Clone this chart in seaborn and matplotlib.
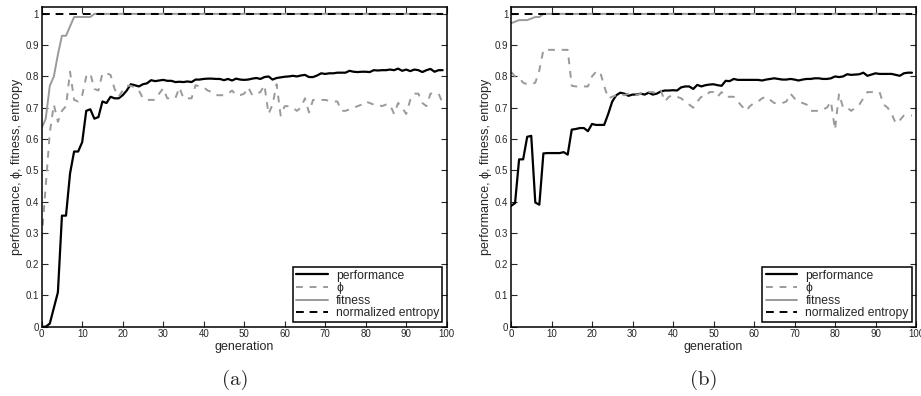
import numpy as np
import pandas as pd
import matplotlib
matplotlib.use("Agg")
import matplotlib.pyplot as plt
import seaborn as sns

generation = list(range(100))

perf_a = [0.0, 0.0, 0.01, 0.06, 0.11, 0.355, 0.355, 0.49, 0.56, 0.56,
          0.59, 0.69, 0.695, 0.665, 0.67, 0.72, 0.715, 0.735, 0.73, 0.73,
          0.74, 0.755, 0.775, 0.772, 0.768, 0.775, 0.778, 0.788, 0.785, 0.787,
          0.789, 0.786, 0.786, 0.782, 0.783, 0.782, 0.784, 0.782, 0.79, 0.79,
          0.792, 0.793, 0.793, 0.792, 0.792, 0.788, 0.792, 0.787, 0.793, 0.79,
          0.789, 0.79, 0.793, 0.795, 0.792, 0.798, 0.8, 0.79, 0.795, 0.797,
          0.799, 0.8, 0.802, 0.8, 0.803, 0.805, 0.798, 0.798, 0.803, 0.81,
          0.808, 0.81, 0.81, 0.812, 0.812, 0.812, 0.818, 0.815, 0.814, 0.815,
          0.815, 0.814, 0.82, 0.819, 0.82, 0.82, 0.822, 0.82, 0.825, 0.818,
          0.822, 0.817, 0.822, 0.82, 0.814, 0.82, 0.824, 0.815, 0.82, 0.82]

phi_a = [0.28, 0.45, 0.62, 0.71, 0.655, 0.69, 0.705, 0.815, 0.725, 0.72,
         0.74, 0.80, 0.81, 0.76, 0.755, 0.81, 0.81, 0.805, 0.76, 0.735,
         0.755, 0.77, 0.77, 0.765, 0.755, 0.73, 0.725, 0.725, 0.725, 0.745,
         0.762, 0.73, 0.73, 0.73, 0.765, 0.73, 0.73, 0.73, 0.772, 0.768,
         0.765, 0.755, 0.75, 0.74, 0.74, 0.74, 0.745, 0.755, 0.74, 0.74,
         0.745, 0.765, 0.74, 0.745, 0.75, 0.772, 0.68, 0.71, 0.775, 0.675,
         0.705, 0.705, 0.70, 0.69, 0.70, 0.73, 0.685, 0.725, 0.725, 0.725,
         0.725, 0.722, 0.72, 0.72, 0.69, 0.69, 0.695, 0.70, 0.705, 0.71,
         0.72, 0.715, 0.71, 0.71, 0.705, 0.71, 0.71, 0.68, 0.715, 0.70,
         0.68, 0.725, 0.745, 0.745, 0.715, 0.705, 0.745, 0.745, 0.745, 0.715]

fit_a = [0.635, 0.665, 0.77, 0.80, 0.87, 0.93, 0.93, 0.96, 0.99, 0.99,
         0.99, 0.99, 0.99, 1.0] + [1.0] * 86

ent_a = [1.0] * 100

perf_b = [0.386, 0.395, 0.535, 0.535, 0.607, 0.61, 0.397, 0.39, 0.554, 0.555,
          0.555, 0.555, 0.555, 0.558, 0.55, 0.63, 0.632, 0.635, 0.635, 0.625,
          0.648, 0.645, 0.645, 0.645, 0.68, 0.72, 0.74, 0.748, 0.745, 0.738,
          0.742, 0.742, 0.745, 0.742, 0.748, 0.742, 0.745, 0.752, 0.755, 0.755,
          0.756, 0.755, 0.765, 0.768, 0.768, 0.76, 0.773, 0.768, 0.772, 0.774,
          0.775, 0.772, 0.77, 0.786, 0.785, 0.792, 0.789, 0.789, 0.789, 0.789,
          0.789, 0.789, 0.787, 0.79, 0.792, 0.794, 0.792, 0.79, 0.79, 0.792,
          0.79, 0.787, 0.79, 0.792, 0.792, 0.794, 0.794, 0.792, 0.792, 0.794,
          0.80, 0.798, 0.80, 0.807, 0.805, 0.806, 0.807, 0.812, 0.802, 0.806,
          0.81, 0.808, 0.808, 0.808, 0.808, 0.805, 0.802, 0.81, 0.812, 0.812]

phi_b = [0.815, 0.80, 0.795, 0.78, 0.775, 0.775, 0.78, 0.82, 0.885, 0.885,
         0.885, 0.885, 0.885, 0.885, 0.885, 0.77, 0.768, 0.768, 0.768, 0.768,
         0.80, 0.815, 0.815, 0.77, 0.73, 0.735, 0.74, 0.745, 0.74, 0.745,
         0.745, 0.74, 0.745, 0.745, 0.75, 0.75, 0.745, 0.755, 0.72, 0.735,
         0.74, 0.735, 0.73, 0.72, 0.71, 0.70, 0.72, 0.735, 0.735, 0.75,
         0.75, 0.735, 0.75, 0.735, 0.735, 0.735, 0.72, 0.705, 0.69, 0.705,
         0.715, 0.72, 0.73, 0.735, 0.725, 0.715, 0.715, 0.715, 0.72, 0.745,
         0.73, 0.72, 0.715, 0.71, 0.69, 0.69, 0.69, 0.695, 0.70, 0.72,
         0.63, 0.745, 0.70, 0.70, 0.69, 0.70, 0.71, 0.73, 0.75, 0.75,
         0.75, 0.75, 0.71, 0.70, 0.68, 0.65, 0.66, 0.675, 0.675, 0.675]

fit_b = [0.97, 0.975, 0.98, 0.98, 0.98, 0.985, 0.99, 0.99] + [1.0] * 92

ent_b = [1.0] * 100

series_labels = ["performance", "\u03d5", "fitness", "normalized entropy"]
captions = ["(a)", "(b)"]
x_ticks = list(range(0, 101, 10))
y_ticks = [0, 0.1, 0.2, 0.3, 0.4, 0.5, 0.6, 0.7, 0.8, 0.9, 1.0]
y_ticklabels = ["0", "0.1", "0.2", "0.3", "0.4", "0.5", "0.6", "0.7", "0.8", "0.9", "1"]

sns.set_style("ticks")
plt.rcParams["font.family"] = ["Liberation Sans", "DejaVu Sans"]

fig = plt.figure(figsize=(9.21, 3.96), dpi=100)
W, H = 921.0, 396.0
gray = "#9a9a9a"
styles = [
    dict(color="black", linestyle="-", linewidth=1.6),
    dict(color=gray, linestyle=(0, (3.5, 3.5)), linewidth=1.4),
    dict(color=gray, linestyle="-", linewidth=1.4),
    dict(color="black", linestyle=(0, (4, 3)), linewidth=1.4),
]

panels = [
    (41.7, [perf_a, phi_a, fit_a, ent_a], 235),
    (511.0, [perf_b, phi_b, fit_b, ent_b], 704),
]

for i, (left_px, data, cap_x) in enumerate(panels):
    ax = fig.add_axes([left_px / W, 1 - 326.7 / H, 405 / W, (326.7 - 7.3) / H])
    for vals, lab, st in zip(data, series_labels, styles):
        sns.lineplot(x=generation, y=vals, ax=ax, label=lab, **st)
    ax.set_xlim(0, 100)
    ax.set_ylim(0, 1.021)
    ax.set_xticks(x_ticks)
    ax.set_xticklabels([str(t) for t in x_ticks])
    ax.set_yticks(y_ticks)
    ax.set_yticklabels(y_ticklabels)
    ax.tick_params(direction="in", top=True, right=True, length=4, width=0.8,
                   labelsize=7, pad=2)
    for sp in ax.spines.values():
        sp.set_linewidth(1.1)
        sp.set_color("black")
    ax.set_xlabel("generation", fontsize=9, labelpad=1)
    ax.set_ylabel("performance, \u03d5, fitness, entropy", fontsize=9, labelpad=2)
    leg = ax.legend(loc="lower right", fontsize=8.7, frameon=True, fancybox=False,
                    edgecolor="black", framealpha=1, borderaxespad=0.35,
                    handlelength=2.6, handletextpad=0.7, labelspacing=0.05,
                    borderpad=0.25)
    leg.get_frame().set_linewidth(1.1)
    fig.text(cap_x / W, 1 - 380 / H, captions[i], ha="center", va="center",
             fontsize=15, family="cmr10")

fig.savefig("out.png", dpi=100)
